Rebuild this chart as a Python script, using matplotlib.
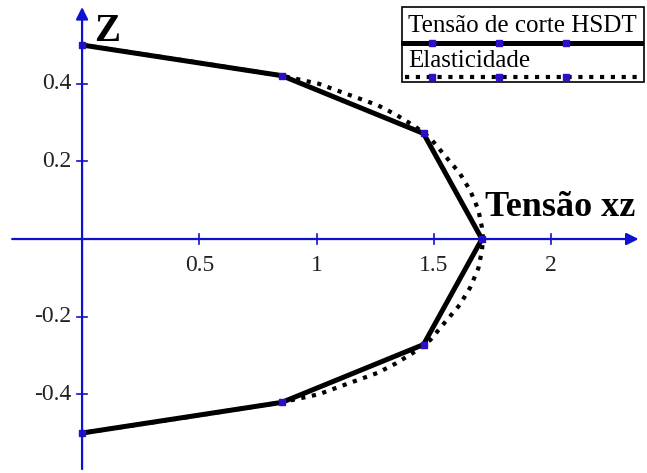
import matplotlib.pyplot as plt
from matplotlib.patches import Rectangle
from matplotlib.lines import Line2D

plt.rcParams['font.family'] = ['Liberation Serif', 'DejaVu Serif']

# HSDT shear stress through the thickness
z_hsdt = [0.5, 0.421, 0.272, 0.0, -0.272, -0.421, -0.5]
tau_hsdt = [0.0, 0.852, 1.456, 1.705, 1.456, 0.852, 0.0]

# elasticity solution
z_elas = [0.5, 0.46, 0.421, 0.40, 0.38, 0.345, 0.32, 0.29, 0.26, 0.22, 0.17,
          0.125, 0.075, 0.03, 0.0,
          -0.03, -0.075, -0.125, -0.17, -0.22, -0.26, -0.29, -0.32, -0.345,
          -0.38, -0.40, -0.421, -0.46, -0.5]
tau_elas = [0.0, 0.44, 0.85, 1.01, 1.10, 1.26, 1.34, 1.42, 1.485, 1.54, 1.61,
            1.655, 1.69, 1.705, 1.71,
            1.705, 1.69, 1.655, 1.61, 1.54, 1.485, 1.42, 1.34, 1.26,
            1.10, 1.01, 0.85, 0.44, 0.0]

xticks = [0.5, 1, 1.5, 2]
yticks = [0.4, 0.2, -0.2, -0.4]

blue = '#1010d0'
mk = '#2a10c8'

fig = plt.figure(figsize=(6.47, 4.73), dpi=100)
ax = fig.add_axes([0, 0, 1, 1])
ax.set_xlim(-0.35, 2.409)
ax.set_ylim(-0.603, 0.616)
ax.axis('off')

# axes through the origin with arrow heads
ax.annotate('', xy=(2.385, 0), xytext=(-0.31, 0),
            arrowprops=dict(arrowstyle='-|>', color=blue, lw=1.6, mutation_scale=18))
ax.annotate('', xy=(0, 0.605), xytext=(0, -0.60),
            arrowprops=dict(arrowstyle='-|>', color=blue, lw=1.6, mutation_scale=18))
for t in xticks:
    ax.plot([t, t], [-0.013, 0.013], color=blue, lw=1.2)
    ax.text(t, -0.04, f'{t:g}', ha='center', va='top', fontsize=17, color='#222222')
for t in yticks:
    ax.plot([-0.022, 0.022], [t, t], color=blue, lw=1.2)
    ax.text(-0.045, t, f'{t:g}', ha='right', va='center', fontsize=17, color='#222222')

ax.plot(tau_elas, z_elas, color='black', lw=3.0, linestyle=(0, (1, 1.6)))
ax.plot(tau_hsdt, z_hsdt, color='black', lw=3.6, marker='s', markersize=5,
        markerfacecolor=mk, markeredgecolor=mk)

ax.text(0.05, 0.535, 'Z', fontsize=28, fontweight='bold', ha='left', va='center')
ax.text(1.72, 0.08, 'Tensão xz', fontsize=26, fontweight='bold', ha='left', va='center')

# legend box
W, H = 647, 473
lx0, lx1 = 402 / W, 644 / W
ax.add_patch(Rectangle((lx0, 1 - 82 / H), lx1 - lx0, 75 / H, transform=ax.transAxes,
                       facecolor='white', edgecolor='black', lw=1.2))
ax.text(408 / W, 1 - 26 / H, 'Tensão de corte HSDT', transform=ax.transAxes,
        fontsize=18, ha='left', va='center')
ax.text(408 / W, 1 - 61 / H, 'Elasticidade', transform=ax.transAxes,
        fontsize=18, ha='left', va='center')
ax.add_line(Line2D([lx0 + 1 / W, lx1 - 3 / W], [1 - 43 / H] * 2, transform=ax.transAxes,
                   color='black', lw=3.6))
ax.add_line(Line2D([lx0 + 3 / W, lx1 - 3 / W], [1 - 77 / H] * 2, transform=ax.transAxes,
                   color='black', lw=3.0, linestyle=(0, (1, 1.6))))
for px in [432, 499, 566]:
    for py in [43, 77]:
        ax.add_line(Line2D([px / W], [1 - py / H], transform=ax.transAxes, marker='s',
                           markersize=5, color=mk, linestyle='none'))

fig.savefig('out.png', dpi=100)
